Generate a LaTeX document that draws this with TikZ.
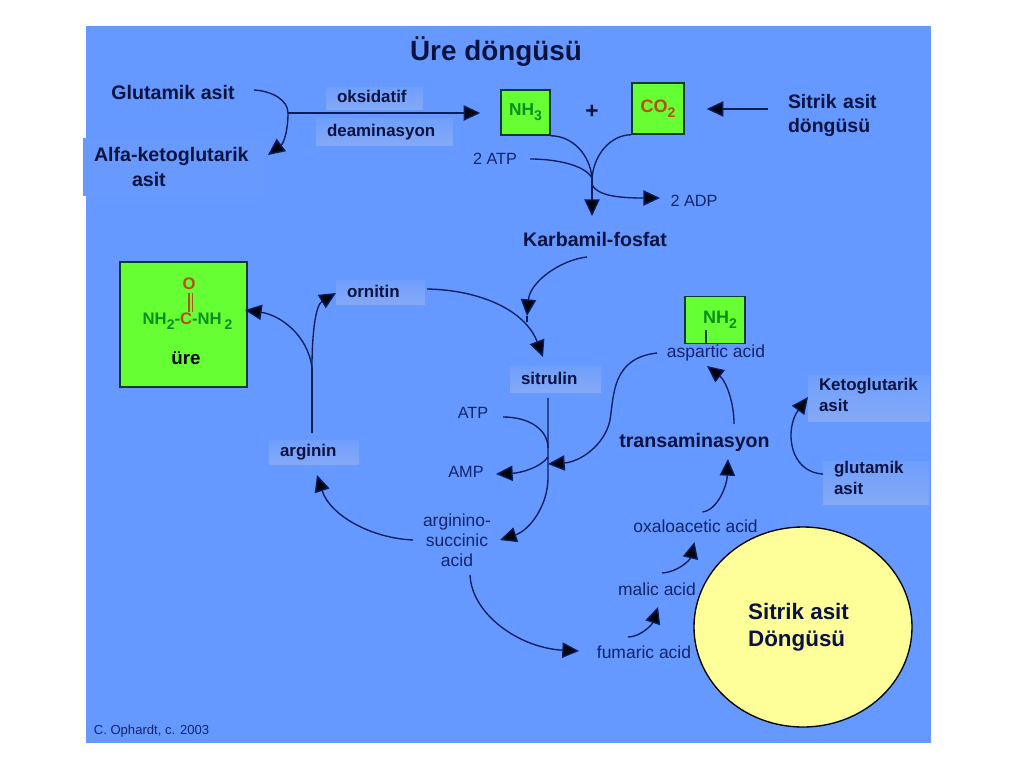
\documentclass[tikz,border=0pt]{standalone}
\usepackage{fontspec}
\setmainfont{Liberation Sans}
\usetikzlibrary{arrows.meta,shapes.geometric}
\definecolor{bgblue}{HTML}{6699FF}
\definecolor{lblA}{HTML}{6F9FFC}
\definecolor{lblB}{HTML}{84A9F6}
\definecolor{navy}{HTML}{0A1240}
\definecolor{thin}{HTML}{14246A}
\definecolor{wire}{HTML}{0A1C5C}
\definecolor{leaf}{HTML}{66FF33}
\definecolor{gtxt}{HTML}{0A8F1F}
\definecolor{otxt}{HTML}{B5500F}
\definecolor{boxedge}{HTML}{0B3A33}
\definecolor{lemon}{HTML}{FFFF99}
\newcommand{\lowdigit}[1]{\raisebox{-0.28em}{\fontsize{10.5}{10}\selectfont #1}}
\tikzset{
  x=0.75pt,y=-0.75pt,
  bigtxt/.style={inner sep=0pt,text=navy,font=\fontsize{14.7}{18.75}\selectfont\bfseries,align=center},
  thintxt/.style={inner sep=0pt,text=thin,font=\fontsize{12.2}{15}\selectfont,align=center},
  thinwide/.style={thintxt,font=\fontsize{13.1}{15}\selectfont},
  lblbox/.style n args={2}{rectangle,top color=lblA,bottom color=lblB,draw=none,inner xsep=8.25pt,inner ysep=0pt,
    minimum width=#1*0.75pt,minimum height=#2*0.75pt,text width=#1*0.75pt-16.5pt,align=left,text=navy,
    font=\fontsize{12.7}{15.75}\selectfont\bfseries},
  greenbox/.style n args={2}{rectangle,fill=leaf,draw=boxedge,line width=1.1pt,inner sep=0pt,
    minimum width=#1*0.75pt,minimum height=#2*0.75pt},
  conn/.style={draw=wire,line width=1pt},
  arr/.style={conn,-{Triangle[length=12.5pt,width=11.5pt,fill=black!80!navy]}},
}
\begin{document}
\begin{tikzpicture}
\useasboundingbox (0,0) rectangle (1024,768);
\fill[white] (0,0) rectangle (1024,768);
\fill[bgblue] (86,26) rectangle (931,743);

% texts and boxes
\node[bigtxt,font=\fontsize{20.9}{24}\selectfont\bfseries] (title) at (496,52) {Üre döngüsü};
\node[bigtxt] (glut) at (173,92) {Glutamik asit};
\node[rectangle,fill=bgblue!92!lblB,inner xsep=0pt,inner ysep=0pt,minimum width=136.5pt,minimum height=43.5pt,
  text width=136.5pt,align=left,text=navy,font=\fontsize{14.7}{18.75}\selectfont\bfseries] (alfa) at (174,167)
  {\hspace*{8.25pt}Alfa-ketoglutarik\\\hspace*{36.75pt}asit};
\node[lblbox={97}{22}] (oks) at (374.5,98) {\raisebox{2pt}{oksidatif}};
\node[lblbox={137}{27}] (dea) at (384.5,132) {\raisebox{0.7pt}{deaminasyon}};
\node[greenbox={49}{45}] (nh3) at (525.5,112.5) {\fontsize{13}{14}\selectfont\bfseries\color{gtxt}NH\lowdigit{3}};
\node[inner sep=0pt,text=navy,font=\fontsize{17}{18}\selectfont\bfseries] (plus) at (592,112) {+};
\node[greenbox={52}{51}] (co2) at (658,108.5) {\fontsize{13.5}{14}\selectfont\bfseries\color{otxt}CO\lowdigit{2}};
\node[bigtxt,font=\fontsize{14.6}{18}\selectfont\bfseries,text width=75pt,align=left] (sitsrc) at (838,116) {Sitrik asit\\döngüsü};
\node[thintxt] (atpa) at (495,159) {2 ATP};
\node[thintxt] (adpa) at (694,201) {2 ADP};
\node[bigtxt] (karb) at (595,239) {Karbamil-fosfat};

\node[greenbox={127}{125}] (urea) at (183.5,324.5) {};
\node[inner sep=0pt,text=otxt,font=\fontsize{12.5}{14}\selectfont\bfseries] (oxy) at (189,284) {O};
\node[inner sep=0pt,font=\fontsize{12.5}{14}\selectfont\bfseries] (formula) at (187.5,321)
  {\color{gtxt}NH\lowdigit{2}-\color{otxt}C\color{gtxt}-NH\,\lowdigit{2}};
\node[inner sep=0pt,text=black!85!navy,font=\fontsize{14}{16}\selectfont\bfseries] (urelbl) at (186,358) {üre};

\node[lblbox={89}{24}] (orn) at (380.5,292) {\raisebox{1.5pt}{ornitin}};
\node[lblbox={90}{24}] (arg) at (314,452) {arginin};
\node[lblbox={91}{26}] (sit) at (555.5,379) {\raisebox{1.5pt}{sitrulin}};
\node[greenbox={60}{47}] (nhtwo) at (715,320) {};
\node[inner sep=0pt,font=\fontsize{13.5}{14}\selectfont\bfseries,text=gtxt] (nhtwotxt) at (720,320) {NH\lowdigit{2}};
\node[thinwide] (asp) at (716,353) {aspartic acid};
\node[lblbox={122}{46}] (keto) at (869,398) {Ketoglutarik\\asit\vspace{4.5pt}};
\node[lblbox={106}{42}] (glutb) at (876,483) {glutamik\\asit\vspace{7pt}};
\node[bigtxt] (trans) at (694.5,442) {transaminasyon};
\node[thintxt] (atpb) at (473,413) {ATP};
\node[thintxt] (ampb) at (466,472) {AMP};
\node[thinwide] (arsuc) at (457,540) {arginino-\\succinic\\acid};
\node[thinwide] (oxalo) at (695.5,526) {oxaloacetic acid};
\node[thinwide] (malic) at (657,589) {malic acid};
\node[thinwide] (fum) at (644,652) {fumaric acid};
\node[ellipse,fill=lemon,draw=black,line width=1pt,inner sep=0pt,minimum width=163.5pt,minimum height=150pt] (cycle) at (803,627) {};
\node[bigtxt,align=left,font=\fontsize{16.8}{20.25}\selectfont\bfseries] (cyclbl) at (798.5,627) {Sitrik asit\\Döngüsü};
\node[inner sep=0pt,text=thin,font=\fontsize{9.8}{11}\selectfont] (credit) at (151.5,731) {C. Ophardt, c. 2003};

% junctions
\coordinate (ja) at (288,113);
\coordinate (jb) at (592,178);
\coordinate (jc) at (312,368);
\coordinate (jd) at (548,448);
\coordinate (je) at (548,457);
\coordinate (jf) at (548,464);
\coordinate (jg) at (527,316);
\coordinate (jh) at (527,322);

% bonds
\draw[otxt,line width=0.9pt] (189,293) -- (189,312) (192.5,293) -- (192.5,312);
\draw[boxedge,line width=1pt] ([shift={(-9,10)}]nhtwo.center) -- (nhtwo.south -| 706,0);

% connectors, top
\draw[conn] ([shift={(81,-2)}]glut.center) .. controls (272,91) and (288,100) .. (ja);
\draw[arr] (ja) .. controls (288,130) and (284,143) .. ([shift={(94,-12)}]alfa.center);
\draw[arr] (ja) -- ([shift={(-20,0.5)}]nh3.west);
\draw[arr] ([shift={(-70,-7)}]sitsrc.center) -- ([shift={(22,0.5)}]co2.east);
\draw[conn] (nh3.south east) .. controls (573,136) and (590,155) .. (jb);
\draw[conn] (co2.south west) .. controls (610,135) and (594,155) .. (jb);
\draw[conn] ([shift={(35,0)}]atpa.center) .. controls (556,159) and (585,165) .. (jb);
\draw[arr] (jb) -- ([shift={(-3,-23)}]karb.center);
\draw[arr] ([shift={(-3,-54)}]karb.center) .. controls (598,195) and (615,198) .. ([shift={(-34,-3)}]adpa.center);

% connectors, urea cycle
\draw[arr] ([shift={(-8,18)}]karb.center) .. controls (560,260) and (530,282) .. (jg);
\draw[conn] (jg) -- (jh);
\draw[arr] ([shift={(46.5,-3)}]orn.center) .. controls (480,290) and (525,310) .. ([shift={(-12.5,-22)}]sit.center);
\draw[conn] ([shift={(-2,-19)}]arg.center) -- (jc);
\draw[arr] (jc) .. controls (308,335) and (280,315) .. ([shift={(61.5,-14.5)}]urea.center);
\draw[arr] (jc) .. controls (312,330) and (316,305) .. ([shift={(-44.5,1)}]orn.center);
\draw[arr] ([shift={(-44,0)}]arsuc.center) .. controls (370,538) and (330,515) .. ([shift={(3,23)}]arg.center);
\draw[arr] ([shift={(-7.5,19)}]sit.center) -- (548,478) .. controls (548,505) and (530,530) .. ([shift={(43,0)}]arsuc.center);
\draw[conn] ([shift={(30,4)}]atpb.center) .. controls (530,417) and (548,430) .. (jd);
\draw[arr] (je) .. controls (540,468) and (520,473) .. ([shift={(30,2)}]ampb.center);
\draw[arr] ([shift={(-59,0)}]asp.center) .. controls (612,358) and (614,395) .. (610,420) .. controls (605,445) and (580,462) .. (jf);
\draw[arr] ([shift={(13,35)}]arsuc.center) .. controls (472,615) and (520,648) .. ([shift={(-65,-1)}]fum.center);
\draw[arr] ([shift={(-16,-15)}]fum.center) .. controls (640,637) and (652,625) .. ([shift={(1,18)}]malic.center);
\draw[arr] ([shift={(5,-16)}]malic.center) .. controls (678,572) and (690,560) .. ([shift={(-1,16)}]oxalo.center);
\draw[arr] ([shift={(7,-14)}]oxalo.center) .. controls (718,510) and (727,485) .. ([shift={(33.5,17)}]trans.center);
\draw[arr] ([shift={(39.5,-18)}]trans.center) .. controls (734,400) and (725,380) .. ([shift={(-9,13)}]asp.center);
\draw[arr] ([shift={(-53,-9)}]glutb.center) .. controls (788,472) and (785,428) .. ([shift={(-61,-1)}]keto.center);
\end{tikzpicture}
\end{document}
